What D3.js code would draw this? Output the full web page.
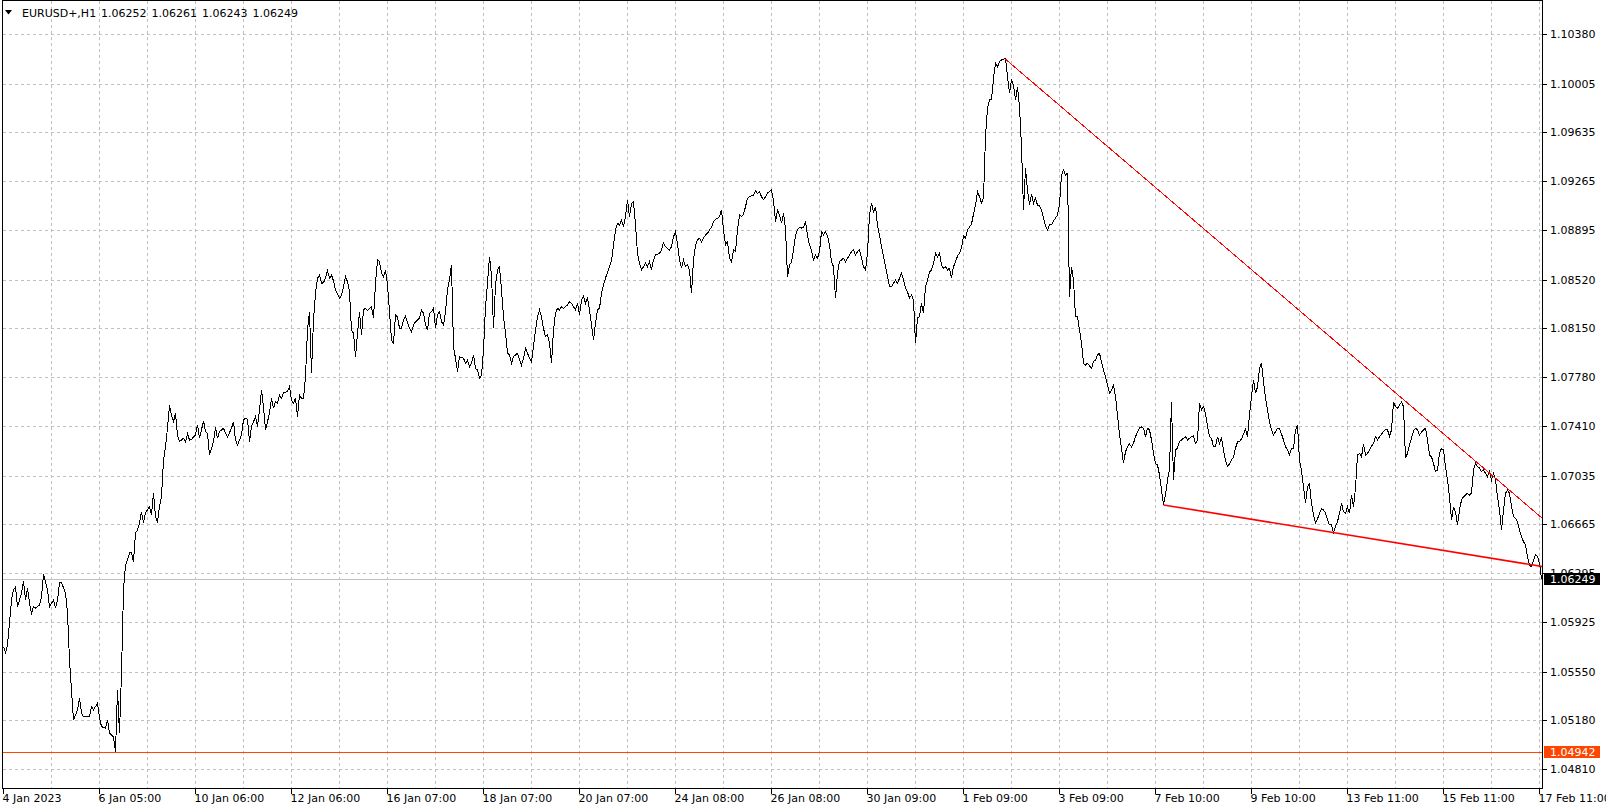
<!DOCTYPE html>
<html><head><meta charset="utf-8">
<script src="https://cdn.jsdelivr.net/npm/d3@7"></script>
<style>
html,body{margin:0;padding:0;background:#fff;overflow:hidden;}
svg{display:block;}
text{font-family:"DejaVu Sans",sans-serif;font-size:11px;}
</style></head><body>
<svg id="chart" width="1606" height="812"></svg>
<script>
// ---------------- DATA ----------------
const symbolLabel = "EURUSD+,H1";
const ohlcLabels = ["1.06252","1.06261","1.06243","1.06249"];

const barIndex = [
0,1,2,3,4,5,6,7,8,9,10,11,12,13,14,15,16,18,19,20,22,23,25,26,27,28,29,31,32,33,34,35,37,38,39,40,43,44,45,47,48,49,51,52,53,54,55,56,57,58,59,60,
61,62,63,64,65,66,67,68,69,70,71,73,74,75,76,77,78,79,80,81,82,83,84,85,86,87,88,90,91,92,93,94,96,97,98,99,100,101,102,103,105,106,107,108,110,111,112,114,115,116,117,119,120,
121,122,123,124,126,127,128,129,130,131,133,134,135,136,137,138,139,140,142,143,144,145,146,147,148,149,150,151,152,153,154,155,156,157,158,159,160,161,162,163,164,165,166,168,169,170,
171,172,173,174,175,176,177,178,179,180,181,182,184,185,186,187,188,189,190,191,192,193,194,195,196,197,198,199,200,201,203,204,205,206,208,209,210,211,212,213,214,215,216,217,218,219,220,
221,222,223,224,225,226,227,228,230,231,232,233,234,235,236,237,238,239,240,241,242,243,244,245,246,247,248,249,250,251,252,253,254,255,256,257,259,260,261,262,263,264,265,266,267,268,269,270,
271,272,273,274,275,276,277,278,279,280,282,283,284,285,286,287,288,289,290,291,292,293,294,295,296,297,298,299,300,301,303,304,305,306,307,308,309,310,311,312,313,314,315,316,317,318,319,320,
321,322,323,324,325,326,328,329,330,331,333,334,335,336,337,338,339,340,341,342,343,344,345,346,347,348,349,350,351,352,353,354,355,356,357,358,359,360,
361,362,363,364,365,366,367,368,369,370,371,372,373,374,375,376,377,378,379,380,381,382,383,384,385,386,387,388,389,390,391,392,393,394,395,396,397,398,399,400,
401,402,403,404,405,406,407,408,409,410,411,412,413,414,415,416,417,418,419,420,421,422,423,424,425,426,427,428,429,430,431,432,433,434,435,436,437,438,439,440,
441,442,443,444,445,446,447,448,449,450,451,452,453,454,455,456,457,458,459,460,461,462,463,464,465,466,467,468,469,470,471,472,473,474,475,476,477,478,479,480,
481,482,483,484,485,486,487,488,489,490,491,492,493,494,495,496,497,498,499,500,501,502,503,504,505,506,507,508,509,510,511,512,513,514,515,516,517,518,519,520,
521,522,523,524,525,526,527,528,529,530,531,532,533,534,535,536,537,538,539,540,541,542,543,544,545,546,547,548,549,550,551,552,553,554,555,556,557,558,559,560,
561,562,563,564,565,566,567,568,569,570,571,572,573,574,575,576,577,578,579,580,581,582,583,584,585,586,587,588,589,590,591,592,593,594,595,596,597,598,599,600,
601,602,603,604,605,606,607,608,609,610,611,612,613,614,615,616,617,618,619,620,621,622,623,624,625,626,627,628,629,630,631,632,633,634,635,636,637,638,639,640,
641,642,643,644,645,646,647,648,649,650,651,652,653,654,655,656,657,658,659,660,661,662,663,664,665,666,667,668,669,670,671,672,673,674,675,676,677,678,679,680,
681,682,683,684,685,686,687,688,689,690,691,692,693,694,695,696,697,698,699,700,701,702,703,704,705,706,707,708,709,710,711,712,713,714,715,716,717,718,719,720,
721,722,723,724,725,726,727,728,729,730,731,732,733,734,735,736,737,738,739,740,741,742,743,744,745,746,747,748,749,750,751,752,753,754,755,756,757,758,759,760,
761,762,763,764,765,766,767,768,769];

const closePrice = [
1.05739,1.05693,1.05752,1.05918,1.06093,1.06169,1.06191,1.06040,1.06093,1.06146,1.06239,1.06093,1.06184,1.06070,1.05994,1.06040,1.06032,1.06055,1.06115,1.06290,1.06169,1.06040,1.06093,1.06032,1.06093,1.06222,1.06224,1.06146,1.05994,1.05638,1.05411,1.05184,1.05259,1.05350,1.05237,1.05209,1.05209,1.05284,1.05259,1.05312,1.05199,1.05133,1.05123,1.05184,1.05085,1.05070,1.05055,1.04942,1.05411,1.05083,1.05540,1.06169,
1.06358,1.06396,1.06449,1.06449,1.06383,1.06600,1.06623,1.06676,1.06762,1.06676,1.06752,1.06800,1.06737,1.06903,1.06724,1.06686,1.06800,1.06875,1.07153,1.07254,1.07396,1.07570,1.07494,1.07444,1.07507,1.07343,1.07292,1.07318,1.07292,1.07350,1.07305,1.07310,1.07343,1.07419,1.07318,1.07381,1.07451,1.07368,1.07356,1.07191,1.07292,1.07401,1.07318,1.07368,1.07394,1.07356,1.07326,1.07394,1.07444,1.07305,1.07267,1.07343,1.07457,
1.07469,1.07462,1.07292,1.07406,1.07481,1.07406,1.07532,1.07684,1.07557,1.07381,1.07507,1.07621,1.07545,1.07595,1.07583,1.07646,1.07621,1.07663,1.07671,1.07709,1.07608,1.07583,1.07621,1.07481,1.07646,1.07621,1.07621,1.07785,1.08138,1.08277,1.07813,1.08214,1.08416,1.08530,1.08555,1.08492,1.08497,1.08530,1.08588,1.08530,1.08555,1.08510,1.08441,1.08379,1.08404,1.08466,
1.08542,1.08504,1.08429,1.08138,1.08113,1.07936,1.08113,1.08277,1.08100,1.08290,1.08303,1.08285,1.08315,1.08227,1.08492,1.08669,1.08656,1.08568,1.08542,1.08593,1.08479,1.08277,1.08063,1.08038,1.08252,1.08239,1.08151,1.08151,1.08214,1.08244,1.08151,1.08126,1.08176,1.08201,1.08227,1.08290,1.08265,1.08176,1.08138,1.08265,1.08277,1.08303,1.08151,1.08252,1.08277,1.08201,1.08176,
1.08277,1.08441,1.08522,1.08631,1.08012,1.07924,1.07822,1.07936,1.07924,1.07886,1.07911,1.07860,1.07886,1.07949,1.07848,1.07835,1.07772,1.07797,1.07987,1.08315,1.08492,1.08694,1.08555,1.08151,1.08479,1.08593,1.08618,1.08441,1.08239,1.08113,1.07962,1.07949,1.07886,1.07936,1.07949,1.07962,1.07873,1.07924,1.08000,1.07962,1.07924,1.07898,1.08012,1.08138,1.08239,1.08290,1.08239,1.08151,
1.08088,1.08100,1.08038,1.07886,1.08138,1.08265,1.08303,1.08290,1.08315,1.08303,1.08328,1.08353,1.08341,1.08315,1.08290,1.08341,1.08252,1.08366,1.08396,1.08341,1.08379,1.08290,1.08176,1.08063,1.08189,1.08290,1.08303,1.08416,1.08479,1.08532,1.08618,1.08661,1.08782,1.08896,1.08947,1.08934,1.08972,1.08921,1.08997,1.09123,1.08997,1.09098,1.09110,1.08934,1.08719,1.08644,1.08593,1.08618,
1.08644,1.08618,1.08656,1.08593,1.08669,1.08707,1.08719,1.08744,1.08800,1.08769,1.08744,1.08769,1.08845,1.08883,1.08795,1.08669,1.08606,1.08669,1.08618,1.08631,1.08593,1.08416,1.08669,1.08782,1.08820,1.08833,1.08807,1.08836,1.08858,1.08871,1.08896,1.08919,1.08957,1.08979,1.08984,1.08997,1.09048,1.08896,
1.08782,1.08807,1.08682,1.08654,1.08744,1.08732,1.08896,1.09010,1.08997,1.09017,1.09073,1.09136,1.09148,1.09157,1.09161,1.09192,1.09174,1.09186,1.09148,1.09128,1.09146,1.09176,1.09186,1.09199,1.09123,1.08959,1.09048,1.09010,1.08947,1.09023,1.08909,1.08542,1.08631,1.08654,1.08744,1.08858,1.08896,1.08916,1.08911,1.08919,
1.08957,1.08858,1.08782,1.08744,1.08669,1.08707,1.08682,1.08732,1.08883,1.08858,1.08883,1.08850,1.08782,1.08654,1.08618,1.08379,1.08568,1.08656,1.08669,1.08682,1.08656,1.08682,1.08707,1.08732,1.08744,1.08707,1.08732,1.08744,1.08682,1.08618,1.08593,1.08719,1.09010,1.09098,1.09032,1.09073,1.08934,1.08858,1.08769,1.08694,
1.08618,1.08542,1.08466,1.08466,1.08492,1.08517,1.08492,1.08530,1.08568,1.08517,1.08457,1.08426,1.08381,1.08404,1.08366,1.08038,1.08229,1.08239,1.08341,1.08265,1.08466,1.08517,1.08578,1.08593,1.08644,1.08719,1.08694,1.08719,1.08631,1.08606,1.08618,1.08593,1.08606,1.08530,1.08618,1.08654,1.08699,1.08722,1.08760,1.08850,
1.08833,1.08896,1.08919,1.08941,1.09017,1.09085,1.09186,1.09148,1.09101,1.09138,1.09603,1.09818,1.09881,1.09881,1.10045,1.10161,1.10133,1.10171,1.10184,1.10189,1.10197,1.10058,1.09932,1.10033,1.09995,1.09881,1.09982,1.09830,1.09527,1.09048,1.09363,1.09199,1.09085,1.09169,1.09098,1.09136,1.09085,1.09078,1.09048,1.08987,
1.08926,1.08896,1.08934,1.08934,1.08964,1.08987,1.09010,1.09085,1.09313,1.09351,1.09313,1.09326,1.08391,1.08618,1.08517,1.08239,1.08239,1.08138,1.08038,1.07886,1.07873,1.07886,1.07866,1.07848,1.07898,1.07911,1.07949,1.07962,1.07898,1.07835,1.07782,1.07722,1.07659,1.07684,1.07722,1.07633,1.07494,1.07343,1.07244,1.07128,
1.07216,1.07254,1.07275,1.07254,1.07280,1.07330,1.07366,1.07396,1.07404,1.07394,1.07330,1.07394,1.07381,1.07305,1.07204,1.07128,1.07116,1.07040,1.06926,1.06813,1.06888,1.07002,1.07078,1.07593,1.07002,1.07229,1.07244,1.07292,1.07305,1.07318,1.07330,1.07305,1.07318,1.07330,1.07335,1.07280,1.07305,1.07583,1.07532,1.07557,
1.07507,1.07406,1.07330,1.07318,1.07254,1.07254,1.07330,1.07280,1.07320,1.07229,1.07153,1.07103,1.07123,1.07153,1.07176,1.07244,1.07290,1.07292,1.07313,1.07350,1.07388,1.07330,1.07494,1.07638,1.07760,1.07659,1.07707,1.07850,1.07891,1.07747,1.07621,1.07532,1.07441,1.07381,1.07343,1.07368,1.07394,1.07394,1.07350,1.07305,
1.07254,1.07229,1.07191,1.07244,1.07242,1.07381,1.07419,1.07153,1.07070,1.06951,1.06825,1.06951,1.06972,1.06825,1.06737,1.06678,1.06706,1.06750,1.06782,1.06775,1.06752,1.06699,1.06661,1.06661,1.06603,1.06648,1.06686,1.06750,1.06825,1.06762,1.06750,1.06797,1.06750,1.06888,1.06800,1.06941,1.07191,1.07204,1.07178,1.07275,
1.07191,1.07204,1.07229,1.07259,1.07280,1.07330,1.07305,1.07330,1.07350,1.07368,1.07386,1.07381,1.07335,1.07381,1.07593,1.07557,1.07545,1.07570,1.07593,1.07557,1.07166,1.07204,1.07267,1.07320,1.07373,1.07394,1.07381,1.07343,1.07366,1.07381,1.07394,1.07305,1.07191,1.07178,1.07128,1.07065,1.07078,1.07204,1.07242,1.07229,
1.07103,1.07002,1.06875,1.06699,1.06800,1.06759,1.06661,1.06775,1.06850,1.06875,1.06888,1.06901,1.06888,1.06901,1.07078,1.07128,1.07103,1.07093,1.07065,1.07078,1.07052,1.07027,1.07065,1.07002,1.07052,1.07002,1.06875,1.06775,1.06623,1.06775,1.06901,1.06926,1.06901,1.06800,1.06724,1.06711,1.06686,1.06623,1.06572,1.06534,
1.06509,1.06421,1.06358,1.06345,1.06396,1.06434,1.06421,1.06371,1.06249];

const timeTickBars = [0,48,96,144,192,240,288,336,384,432,480,528,576,624,672,720,768];
const timeTickLabels = ["4 Jan 2023","6 Jan 05:00","10 Jan 06:00","12 Jan 06:00","16 Jan 07:00","18 Jan 07:00","20 Jan 07:00","24 Jan 08:00","26 Jan 08:00","30 Jan 09:00","1 Feb 09:00","3 Feb 09:00","7 Feb 10:00","9 Feb 10:00","13 Feb 11:00","15 Feb 11:00","17 Feb 11:00"];
const priceTickLabels = ["1.10380","1.10005","1.09635","1.09265","1.08895","1.08520","1.08150","1.07780","1.07410","1.07035","1.06665","1.06295","1.05925","1.05550","1.05180","1.04810"];

const upperTrendBars = [501, 770];
const upperTrendPrices = [1.10190, 1.06704];
const lowerTrendBars = [580, 770];
const lowerTrendPrices = [1.06813, 1.06345];

const lowLevel = 1.04942;
const lastPrice = 1.06249;

// ---------------- DRAW ----------------
const W = 1606, H = 812;
const plotL = 2.5, plotR = 1542.5, plotT = 0.5, plotB = 788.5;
const svg = d3.select("#chart");
svg.append("rect").attr("width", W).attr("height", H).attr("fill", "#fff");

const x = d3.scaleLinear().domain([0, 769]).range([3.5, 1541.5]);
const y = d3.scaleLinear().domain([1.04810, 1.10380]).range([769.3, 34.13]);

const gridColor = "#c0c0c0";
const gGrid = svg.append("g");
// horizontal grid
gGrid.selectAll("line.h").data(priceTickLabels).join("line")
  .attr("x1", plotL).attr("x2", plotR)
  .attr("y1", d => Math.round(y(+d)) + 0.5).attr("y2", d => Math.round(y(+d)) + 0.5)
  .attr("stroke", gridColor).attr("stroke-dasharray", "3,3").attr("shape-rendering", "crispEdges");
// vertical grid every 24 bars
const gridBars = d3.range(24, 770, 24);
gGrid.selectAll("line.v").data(gridBars).join("line")
  .attr("x1", d => Math.floor(x(d)) + 0.5).attr("x2", d => Math.floor(x(d)) + 0.5)
  .attr("y1", plotT).attr("y2", plotB)
  .attr("stroke", gridColor).attr("stroke-dasharray", "3,3").attr("shape-rendering", "crispEdges");

// last price line
svg.append("line").attr("x1", plotL).attr("x2", plotR)
  .attr("y1", Math.round(y(lastPrice)) + 0.5).attr("y2", Math.round(y(lastPrice)) + 0.5)
  .attr("stroke", "#c0c0c0").attr("shape-rendering", "crispEdges");
// low level horizontal line
svg.append("line").attr("x1", plotL).attr("x2", plotR)
  .attr("y1", Math.round(y(lowLevel)) + 0.5).attr("y2", Math.round(y(lowLevel)) + 0.5)
  .attr("stroke", "#ff4500").attr("shape-rendering", "crispEdges");

// clip
svg.append("clipPath").attr("id", "clip").append("rect")
  .attr("x", plotL).attr("y", plotT).attr("width", plotR - plotL).attr("height", plotB - plotT);

const series = barIndex.map((b, i) => ({bar: b, close: closePrice[i]}));
const line = d3.line().x(d => x(d.bar)).y(d => y(d.close));
svg.append("path").datum(series).attr("d", line)
  .attr("fill", "none").attr("stroke", "#000").attr("stroke-width", 1)
  .attr("shape-rendering", "crispEdges").attr("clip-path", "url(#clip)");

// trend lines
const trendLine = d3.line().x(d => x(d[0])).y(d => y(d[1]));
svg.append("path").datum(upperTrendBars.map((b, i) => [b, upperTrendPrices[i]]))
  .attr("d", trendLine).attr("fill", "none").attr("stroke", "#ff0000").attr("stroke-width", 1)
  .attr("shape-rendering", "crispEdges").attr("clip-path", "url(#clip)");
svg.append("path").datum(lowerTrendBars.map((b, i) => [b, lowerTrendPrices[i]]))
  .attr("d", trendLine).attr("fill", "none").attr("stroke", "#ff0000").attr("stroke-width", 1.6)
  .attr("clip-path", "url(#clip)");

// frame
svg.append("rect").attr("x", plotL).attr("y", plotT).attr("width", plotR - plotL).attr("height", plotB - plotT)
  .attr("fill", "none").attr("stroke", "#000").attr("shape-rendering", "crispEdges");

// price axis
const gP = svg.append("g");
gP.selectAll("line").data(priceTickLabels).join("line")
  .attr("x1", plotR).attr("x2", plotR + 4)
  .attr("y1", d => Math.round(y(+d)) + 0.5).attr("y2", d => Math.round(y(+d)) + 0.5)
  .attr("stroke", "#000").attr("shape-rendering", "crispEdges");
gP.selectAll("text").data(priceTickLabels).join("text")
  .attr("x", 1550).attr("y", d => y(+d) + 4).attr("fill", "#000").text(d => d);

// time axis
const gT = svg.append("g");
gT.selectAll("line").data(timeTickBars).join("line")
  .attr("x1", d => Math.floor(x(d)) + 0.5).attr("x2", d => Math.floor(x(d)) + 0.5)
  .attr("y1", plotB).attr("y2", plotB + 5)
  .attr("stroke", "#000").attr("shape-rendering", "crispEdges");
gT.selectAll("text").data(timeTickLabels).join("text")
  .attr("x", (d, i) => x(timeTickBars[i]) - 1).attr("y", 802).attr("fill", "#000").text(d => d);

// price tags
function tag(price, bg) {
  const cy = y(price);
  svg.append("rect").attr("x", 1544).attr("y", Math.round(cy) - 6).attr("width", 56).attr("height", 12).attr("fill", bg);
  svg.append("text").attr("x", 1550).attr("y", cy + 4).attr("fill", "#fff").text(price.toFixed(5));
}
tag(lastPrice, "#000");
tag(lowLevel, "#ff4500");

// title
svg.append("path").attr("d", "M5,10 L12,10 L8.5,14.5 Z").attr("fill", "#000");
const title = svg.append("text").attr("y", 17).attr("fill", "#000");
title.append("tspan").attr("x", 22).text(symbolLabel);
ohlcLabels.forEach((v, i) => title.append("tspan").attr("x", 101 + i * 50.5).text(v));
</script>
</body></html>
